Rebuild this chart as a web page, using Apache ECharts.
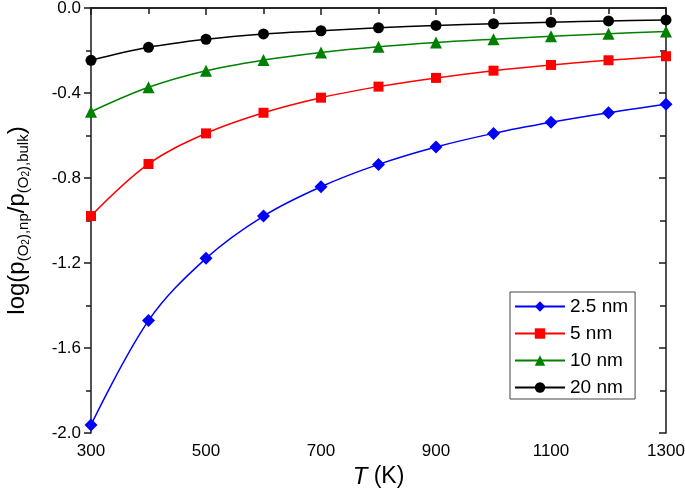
<!DOCTYPE html>
<html>
<head>
<meta charset="utf-8">
<script src="https://cdn.jsdelivr.net/npm/echarts@6/dist/echarts.min.js"></script>
<style>html,body{margin:0;padding:0;background:#fff}#c{width:685px;height:494px}</style>
</head>
<body>
<div id="c"></div>
<script>
const temperatures = [300, 400, 500, 600, 700, 800, 900, 1000, 1100, 1200, 1300];
const seriesNames = ['2.5 nm', '5 nm', '10 nm', '20 nm'];
const values25 = [-1.962, -1.471, -1.178, -0.979, -0.841, -0.736, -0.654, -0.590, -0.538, -0.493, -0.453];
const values5 = [-0.979, -0.734, -0.590, -0.493, -0.422, -0.370, -0.329, -0.295, -0.268, -0.246, -0.227];
const values10 = [-0.488, -0.373, -0.295, -0.245, -0.209, -0.182, -0.162, -0.147, -0.133, -0.121, -0.111];
const values20 = [-0.246, -0.185, -0.147, -0.122, -0.107, -0.093, -0.082, -0.074, -0.067, -0.061, -0.056];
const xTicks = { min: 300, max: 1300, interval: 200 };
const yTicks = { min: -2.0, max: 0.0, interval: 0.4 };

const FONT = 'Liberation Sans, Arial, sans-serif';
const colors = ['#0000ff', '#ff0000', '#008000', '#000000'];
const symbols = ['diamond', 'rect', 'triangle', 'circle'];
const sizes = [13, 10, 12, 11];
const allValues = [values25, values5, values10, values20];

const chart = echarts.init(document.getElementById('c'), null, { renderer: 'canvas' });
const axisLine = { show: true, lineStyle: { color: '#1a1a1a', width: 1.5 } };
const tickStyle = { color: '#1a1a1a', width: 1.5 };

const option = {
  animation: false,
  backgroundColor: '#fff',
  grid: { left: 91, right: 19, top: 8, bottom: 61, containLabel: false, outerBoundsMode: 'none' },
  legend: {
    orient: 'vertical',
    left: 510, top: 292,
    padding: [5, 7, 2, 4],
    itemWidth: 50, itemHeight: 13, itemGap: 8,
    borderColor: '#444', borderWidth: 1,
    backgroundColor: '#fff',
    textStyle: { fontFamily: FONT, fontSize: 19, lineHeight: 19, color: '#000' },
    data: seriesNames
  },
  xAxis: [{
    type: 'value', position: 'bottom',
    min: xTicks.min, max: xTicks.max, interval: xTicks.interval,
    axisLine: axisLine,
    axisTick: { show: true, inside: false, length: 7, lineStyle: tickStyle },
    minorTick: { show: true, splitNumber: 2, length: 5, lineStyle: tickStyle },
    splitLine: { show: false },
    axisLabel: { fontFamily: FONT, fontSize: 17, color: '#000', margin: 10,
      formatter: v => String(v) },
    name: '{i|T}{n| (K)}',
    nameLocation: 'middle', nameGap: 31,
    nameTextStyle: {
      rich: {
        i: { fontFamily: FONT, fontSize: 24, fontStyle: 'italic', color: '#000' },
        n: { fontFamily: FONT, fontSize: 23, color: '#000' }
      }
    }
  }, {
    type: 'value', position: 'top',
    min: xTicks.min, max: xTicks.max, interval: xTicks.interval,
    axisLine: axisLine,
    axisTick: { show: true, inside: true, length: 7, lineStyle: tickStyle },
    minorTick: { show: true, splitNumber: 2, length: 6, lineStyle: tickStyle },
    splitLine: { show: false },
    axisLabel: { show: false }
  }],
  yAxis: [{
    type: 'value', position: 'left',
    min: yTicks.min, max: yTicks.max, interval: yTicks.interval,
    axisLine: axisLine,
    axisTick: { show: true, inside: false, length: 7, lineStyle: tickStyle },
    minorTick: { show: true, splitNumber: 2, length: 5, lineStyle: tickStyle },
    splitLine: { show: false },
    axisLabel: { fontFamily: FONT, fontSize: 17, color: '#000', margin: 10,
      formatter: v => v.toFixed(1) },
    name: '{m|log(p}{s|(O}{ss|2}{s|),np}{m|/p}{s|(O}{ss|2}{s|),bulk}{m|)}',
    nameLocation: 'middle', nameGap: 60, nameRotate: 90,
    nameTextStyle: {
      rich: {
        m: { fontFamily: FONT, fontSize: 24, color: '#000', lineHeight: 28, verticalAlign: 'middle' },
        s: { fontFamily: FONT, fontSize: 15, color: '#000', lineHeight: 28, verticalAlign: 'bottom', padding: [12, 0, 0, 0] },
        ss: { fontFamily: FONT, fontSize: 10, color: '#000', lineHeight: 28, verticalAlign: 'bottom', padding: [17, 0, 0, 0] }
      }
    }
  }, {
    type: 'value', position: 'right',
    min: yTicks.min, max: yTicks.max, interval: yTicks.interval,
    axisLine: axisLine,
    axisTick: { show: true, inside: true, length: 7, lineStyle: tickStyle },
    minorTick: { show: true, splitNumber: 2, length: 6, lineStyle: tickStyle },
    splitLine: { show: false },
    axisLabel: { show: false }
  }],
  series: seriesNames.map((name, i) => ({
    name: name,
    type: 'line',
    xAxisIndex: 0, yAxisIndex: 0,
    smooth: 0.35,
    symbol: symbols[i],
    symbolSize: sizes[i],
    showAllSymbol: true,
    lineStyle: { color: colors[i], width: 1.5 },
    itemStyle: { color: colors[i] },
    data: temperatures.map((t, k) => [t, allValues[i][k]]),
    z: 10 - i
  }))
};
chart.setOption(option);
</script>
</body>
</html>
